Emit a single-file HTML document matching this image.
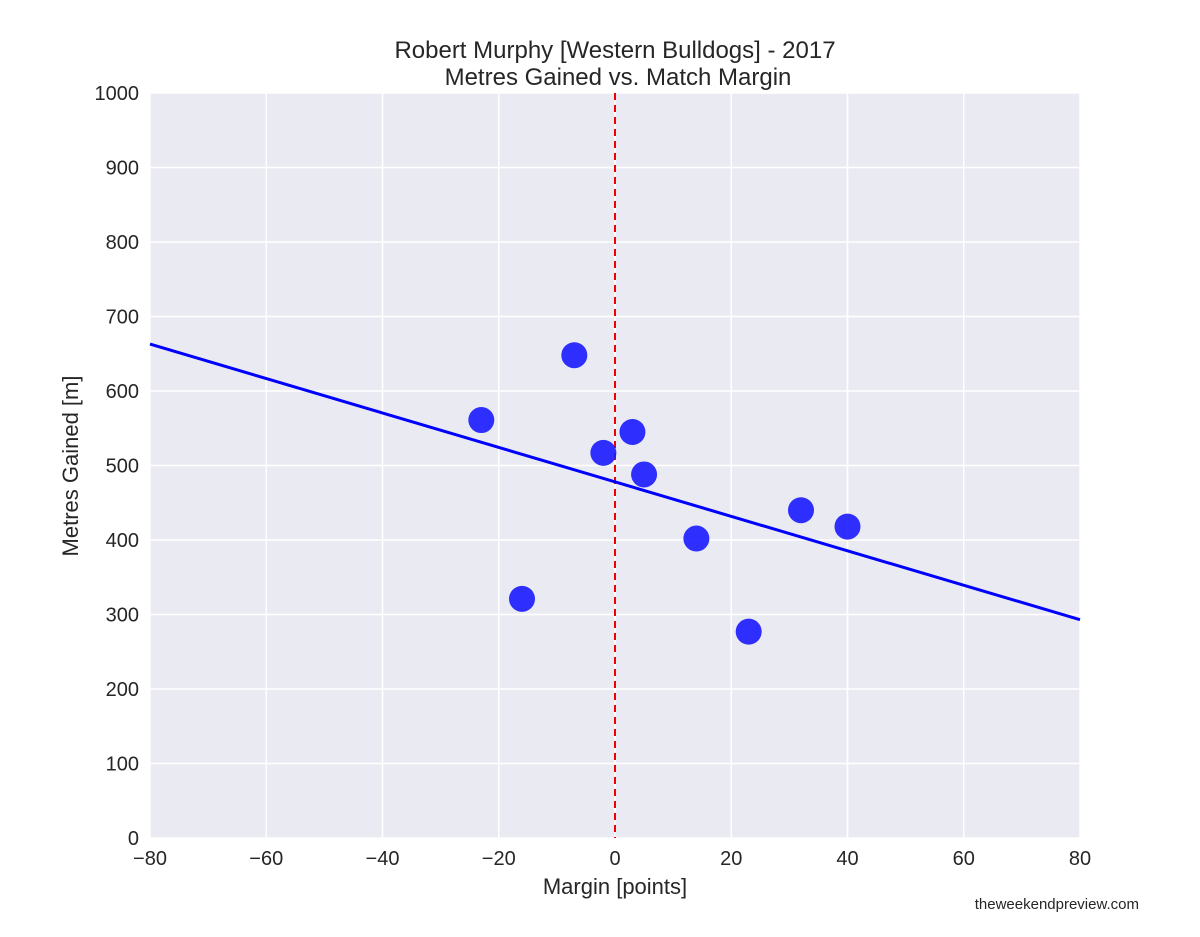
<!DOCTYPE html>
<html><head><meta charset="utf-8"><style>
body{margin:0;background:#fff;}
svg text{font-family:"Liberation Sans",Arial,sans-serif;fill:#262626;}
</style></head><body>
<svg id="chart" width="1200" height="932" xmlns="http://www.w3.org/2000/svg">
<rect x="150" y="93" width="930" height="745" fill="#eaeaf2"/>
<g id="grid"></g><g id="marks"></g><g id="ticks"></g>
<text x="615" y="58" font-size="24" text-anchor="middle">Robert Murphy [Western Bulldogs] - 2017</text>
<text x="618" y="85" font-size="24" text-anchor="middle">Metres Gained vs. Match Margin</text>
<text x="615" y="894" font-size="22" text-anchor="middle">Margin [points]</text>
<text x="78" y="466" font-size="22" text-anchor="middle" transform="rotate(-90 78 466)">Metres Gained [m]</text>
<text x="1139" y="909" font-size="15" text-anchor="end" fill="#000">theweekendpreview.com</text>
</svg>
<script>
const margins=[-23,-16,-7,-2,3,5,14,23,32,40];
const metres=[561,321,648,517,545,488,402,277,440,418];
const xTicks=[-80,-60,-40,-20,0,20,40,60,80];
const yTicks=[0,100,200,300,400,500,600,700,800,900,1000];
const trendStart=[-80,663];
const trendEnd=[80,293];
const NS="http://www.w3.org/2000/svg";
const X=v=>150+(v+80)/160*930;
const Y=v=>838-v/1000*745;
function mk(tag,attrs,parent,text){const e=document.createElementNS(NS,tag);for(const k in attrs)e.setAttribute(k,attrs[k]);if(text!==undefined)e.textContent=text;document.getElementById(parent).appendChild(e);return e;}
xTicks.forEach(t=>{
 const l=mk('line',{x1:X(t),x2:X(t),y1:93,y2:838,stroke:'#fff','stroke-width':1.5},'grid');
 
 
 const tx=mk('text',{x:X(t),y:865,'font-size':20,'text-anchor':'middle'},'ticks',(t<0?'\u2212'+(-t):t));
 
 
});
yTicks.forEach(t=>{
 const l=mk('line',{x1:150,x2:1080,y1:Y(t),y2:Y(t),stroke:'#fff','stroke-width':1.5},'grid');
 
 
 const tx=mk('text',{x:139,y:Y(t)+7,'font-size':20,'text-anchor':'end'},'ticks',t);
 
 
});
const z=mk('line',{x1:X(0),x2:X(0),y1:93,y2:838,stroke:'#e00','stroke-width':2,'stroke-dasharray':'7,5'},'marks');


const tr=mk('line',{x1:X(trendStart[0]),y1:Y(trendStart[1]),x2:X(trendEnd[0]),y2:Y(trendEnd[1]),stroke:'#0000ff','stroke-width':3},'marks');


margins.forEach((m,i)=>{
 const c=mk('circle',{cx:X(m),cy:Y(metres[i]),r:13,fill:'#1a1aff','fill-opacity':0.9},'marks');
 
 
});
</script>
</body></html>
